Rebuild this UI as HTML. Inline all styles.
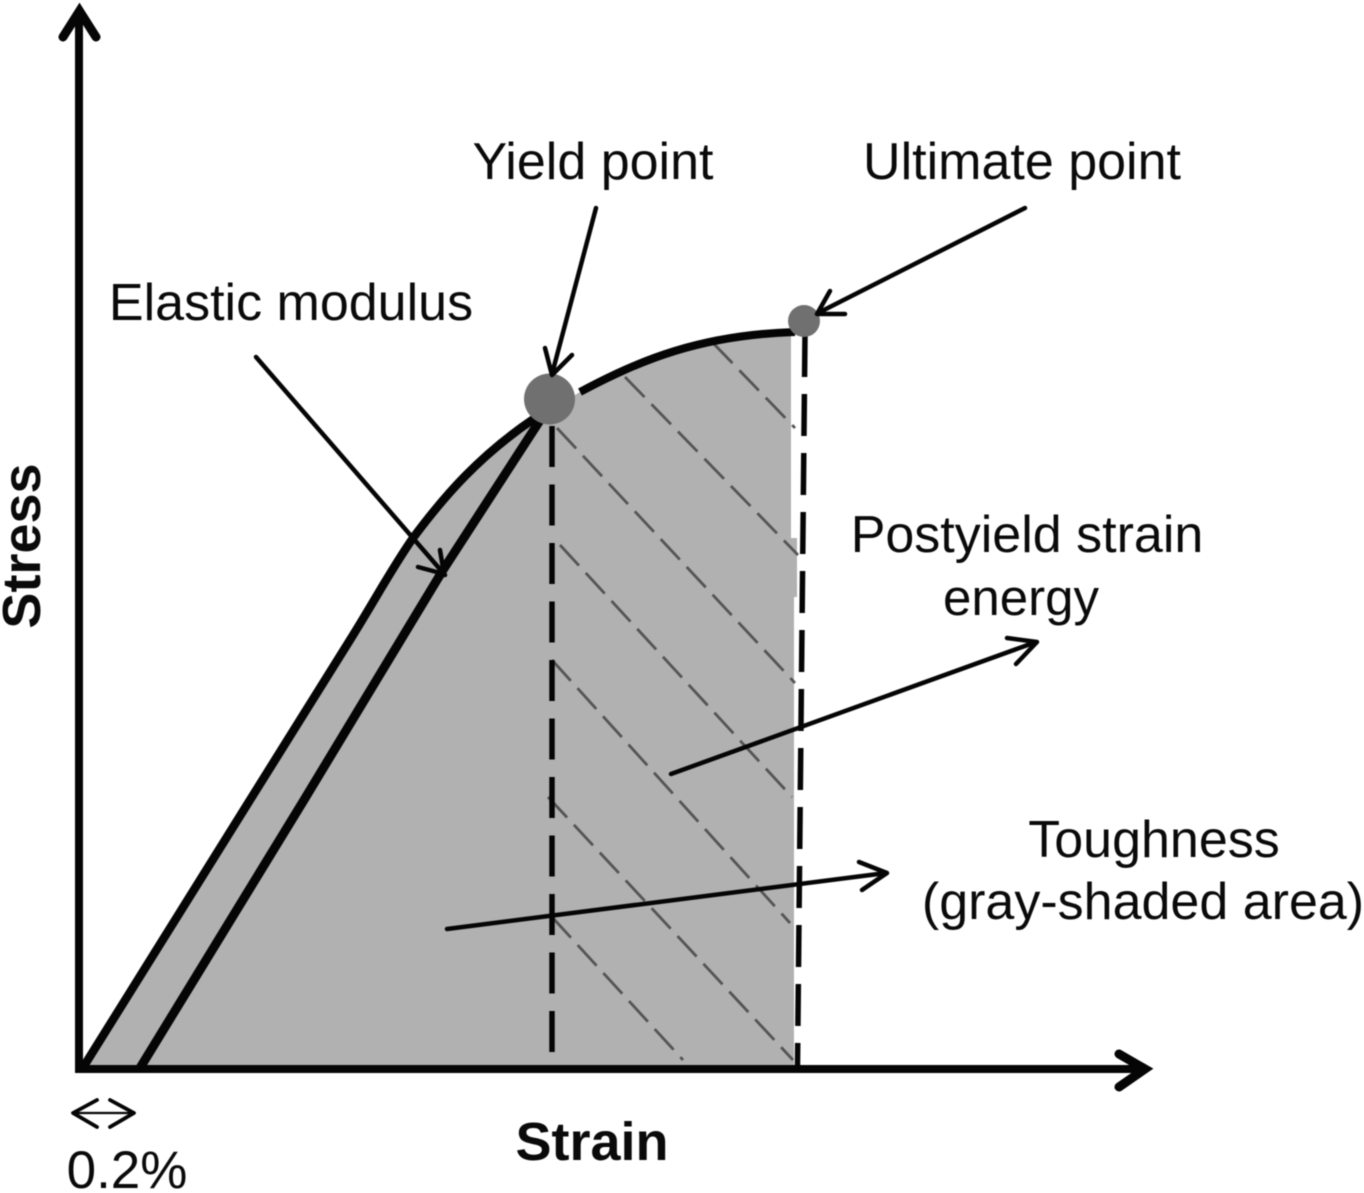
<!DOCTYPE html>
<html><head><meta charset="utf-8"><style>
html,body{margin:0;padding:0;background:#fff}
svg{display:block;filter:blur(.5px)}
text{font-family:"Liberation Sans",sans-serif;fill:#0a0a0a}
</style></head><body>
<svg width="1364" height="1193" viewBox="0 0 1364 1193" xmlns="http://www.w3.org/2000/svg">
<path d="M82 1068 L250 800 L350 640 C375 600 392 568 413 538 C445 495 480 455 535 418 L580 392 C640 360 700 335 791 332 L791 538 L797 538 L797 597 L794 597 L794 1068 Z" fill="#b1b1b1"/>
<g stroke="#555" stroke-width="2.8" stroke-dasharray="28 10" fill="none">
<path d="M713 343 L795 428"/><path d="M625 377 L798 555"/><path d="M557 428 L795 683"/>
<path d="M560 545 L792 797"/><path d="M552 660 L790 923"/><path d="M548 797 L793 1060"/><path d="M552 917 L683 1060"/>
</g>
<path d="M84 1066 L250 800 L350 640 C375 600 392 568 413 538 C445 495 480 455 535 418" fill="none" stroke="#050505" stroke-width="8.5"/>
<path d="M580 392 C640 360 700 335 795 332" fill="none" stroke="#050505" stroke-width="8"/>
<path d="M140 1068 L304 800 L443 570 L548 408" fill="none" stroke="#050505" stroke-width="9"/>
<path d="M552 426 V1053" stroke="#050505" stroke-width="5.5" stroke-dasharray="41 17.5" fill="none"/>
<path d="M805 335 L797.500 1066" stroke="#050505" stroke-width="5.500" stroke-dasharray="42 17" fill="none"/>
<path d="M79 12 V1069 H1140" fill="none" stroke="#050505" stroke-width="8"/>
<path d="M63 37 L79.5 11 L96 37 M1119 1054 L1145 1069 L1119 1087" fill="none" stroke="#050505" stroke-width="9" stroke-linecap="round"/>
<circle cx="549.500" cy="399" r="25.500" fill="#707070"/><circle cx="804" cy="321" r="16" fill="#707070"/>
<g fill="none" stroke="#050505" stroke-width="4.500" stroke-linecap="round" stroke-linejoin="round">
<path d="M596 208 L552 374 M545 348 L552 375 L572 355"/>
<path d="M1025 208 L818 313 M845 314 L817 314 L830 291"/>
<path d="M256 357 L445 575 M418 567 L444 574 L440 550"/>
<path d="M671 774 L1036 642 M1007 638 L1037 642 L1016 664"/>
<path d="M447 929 L886 873 M859 862 L887 873 L862 890"/>
<path d="M97 1100 L73 1113 L97 1127 M110 1100 L134 1113 L110 1127" stroke-width="3.800"/>
<path d="M74 1113 H133" stroke-width="2.200"/>
</g>
<g font-size="52">
<text x="593" y="179" text-anchor="middle">Yield point</text>
<text x="1022" y="179" text-anchor="middle">Ultimate point</text>
<text x="291" y="320" text-anchor="middle">Elastic modulus</text>
<text x="1027" y="552" text-anchor="middle">Postyield strain</text>
<text x="1021" y="615" text-anchor="middle" font-size="51">energy</text>
<text x="1154" y="857" text-anchor="middle">Toughness</text>
<text x="1143" y="919" text-anchor="middle">(gray-shaded area)</text>
<text x="127" y="1188" text-anchor="middle" font-size="53">0.2%</text>
</g>
<text x="592" y="1160" text-anchor="middle" font-size="54" font-weight="700">Strain</text>
<text transform="translate(40 546) rotate(-90)" text-anchor="middle" font-size="54" font-weight="700">Stress</text>
</svg>
</body></html>
